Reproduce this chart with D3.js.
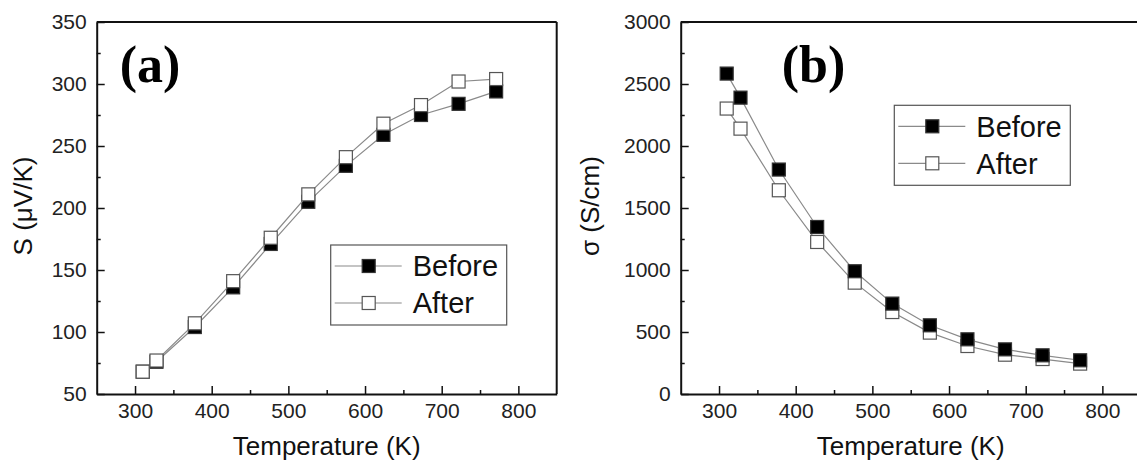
<!DOCTYPE html>
<html>
<head>
<meta charset="utf-8">
<script src="https://cdn.jsdelivr.net/npm/d3@7"></script>
<style>
  body { margin: 0; background: #fff; }
  text { font-family: "Liberation Sans", Arial, sans-serif; fill: #111; }
</style>
</head>
<body>
<div id="chart"></div>
<script>
// temperatures (K), shared by both panels
const temps = [310, 328, 378, 428, 477, 526, 575, 624, 673, 722, 771];

// (a) Seebeck coefficient, uV/K
const seebeckBefore = [68, 76, 104, 136, 171, 205, 234, 259, 275, 284, 294];
const seebeckAfter  = [68, 77, 107, 141, 176, 211, 241, 268, 283, 302, 304];

// (b) electrical conductivity, S/cm
const condBefore = [2584, 2390, 1810, 1347, 990, 729, 554, 441, 360, 312, 272];
const condAfter  = [2302, 2140, 1643, 1226, 898, 661, 495, 387, 317, 282, 245];

const xTicks = [300, 400, 500, 600, 700, 800];
const xMinor = [350, 450, 550, 650, 750];
const seebeckTicks = [50, 100, 150, 200, 250, 300, 350];
const seebeckMinor = [75, 125, 175, 225, 275, 325];
const condTicks = [0, 500, 1000, 1500, 2000, 2500, 3000];
const condMinor = [250, 750, 1250, 1750, 2250, 2750];

const W = 1137, H = 466;
const plotW = 460, plotH = 372, plotTop = 22;

const svg = d3.select("#chart")
  .append("svg")
  .attr("width", W)
  .attr("height", H);

function drawPanel(p) {
  const g = svg.append("g")
    .attr("transform", `translate(${p.left},${plotTop})`);

  const x = d3.scaleLinear().domain([250, 850]).range([0, plotW]);
  const y = d3.scaleLinear().domain(p.yDomain).range([plotH, 0]);

  // minor ticks
  g.append("g")
    .attr("transform", `translate(0,${plotH})`)
    .call(d3.axisBottom(x).tickValues(xMinor).tickSize(-4).tickFormat(""))
    .call(a => a.select(".domain").remove());
  g.append("g")
    .call(d3.axisLeft(y).tickValues(p.yMinor).tickSize(-4).tickFormat(""))
    .call(a => a.select(".domain").remove());

  // major axes, ticks pointing inward
  const xa = g.append("g")
    .attr("transform", `translate(0,${plotH})`)
    .call(d3.axisBottom(x).tickValues(xTicks).tickFormat(d3.format("d"))
      .tickSize(-8).tickPadding(9).tickSizeOuter(0));
  const ya = g.append("g")
    .call(d3.axisLeft(y).tickValues(p.yTicks).tickFormat(d3.format("d"))
      .tickSize(-8).tickPadding(10).tickSizeOuter(0));

  [xa, ya].forEach(a => {
    a.selectAll("text").style("font-size", "21px").style("fill", "#222");
    a.select(".domain").attr("stroke", "#111").attr("stroke-width", 2);
  });
  g.selectAll(".tick line").attr("stroke", "#111").attr("stroke-width", 1.5);

  // top and right frame
  g.append("line").attr("x1", 0).attr("x2", plotW).attr("y1", 0).attr("y2", 0)
    .attr("stroke", "#111").attr("stroke-width", 2);
  g.append("line").attr("x1", plotW).attr("x2", plotW).attr("y1", 0).attr("y2", plotH)
    .attr("stroke", "#111").attr("stroke-width", 2);

  const line = d3.line().x(d => x(d.t)).y(d => y(d.v));
  const ms = 13;

  p.series.forEach(s => {
    const pts = temps.map((t, i) => ({ t, v: s.values[i] }));
    g.append("path")
      .datum(pts)
      .attr("d", line)
      .attr("fill", "none")
      .attr("stroke", "#8a8a8a")
      .attr("stroke-width", 1.2);
    g.selectAll(null)
      .data(pts)
      .join("rect")
      .attr("x", d => x(d.t) - ms / 2)
      .attr("y", d => y(d.v) - ms / 2)
      .attr("width", ms)
      .attr("height", ms)
      .attr("fill", s.filled ? "#000" : "#fff")
      .attr("stroke", s.filled ? "#333" : "#555")
      .attr("stroke-width", 1.2);
  });

  // panel letter
  g.append("text")
    .attr("x", p.letterX)
    .attr("y", 60)
    .text(p.letter)
    .style("font-family", "'Liberation Serif', 'Times New Roman', serif")
    .style("font-weight", "bold")
    .style("font-size", "52px")
    .style("fill", "#000");

  // axis titles
  g.append("text")
    .attr("x", plotW / 2)
    .attr("y", 433)
    .attr("text-anchor", "middle")
    .style("font-size", "26px")
    .text("Temperature (K)");
  g.append("text")
    .attr("transform", `translate(${p.yTitleX},${plotH / 2 - 2}) rotate(-90)`)
    .attr("text-anchor", "middle")
    .style("font-size", "26px")
    .text(p.yTitle);

  // legend
  const lg = g.append("g").attr("transform", `translate(${p.legend[0]},${p.legend[1]})`);
  lg.append("rect")
    .attr("width", 176).attr("height", 80)
    .attr("fill", "#fff").attr("stroke", "#555").attr("stroke-width", 1.2);
  ["Before", "After"].forEach((name, i) => {
    const s = p.series.find(d => d.name === name);
    const cy = 21 + i * 37;
    lg.append("line").attr("x1", 4).attr("x2", 71).attr("y1", cy).attr("y2", cy)
      .attr("stroke", "#8a8a8a").attr("stroke-width", 1.2);
    lg.append("rect")
      .attr("x", 38 - 6.5).attr("y", cy - 6.5).attr("width", 13).attr("height", 13)
      .attr("fill", s.filled ? "#000" : "#fff")
      .attr("stroke", s.filled ? "#333" : "#555").attr("stroke-width", 1.2);
    lg.append("text")
      .attr("x", 82).attr("y", cy).attr("dy", "0.36em")
      .style("font-size", "29px")
      .text(name);
  });
}

drawPanel({
  left: 96.7,
  yDomain: [50, 350],
  yTicks: seebeckTicks,
  yMinor: seebeckMinor,
  yTitle: "S (\u03BCV/K)",
  yTitleX: -65,
  letter: "(a)",
  letterX: 23,
  legend: [234, 223],
  series: [
    { name: "Before", values: seebeckBefore, filled: true },
    { name: "After", values: seebeckAfter, filled: false }
  ]
});

drawPanel({
  left: 680.7,
  yDomain: [0, 3000],
  yTicks: condTicks,
  yMinor: condMinor,
  yTitle: "\u03C3 (S/cm)",
  yTitleX: -82,
  letter: "(b)",
  letterX: 101,
  legend: [213.6, 83.3],
  series: [
    { name: "After", values: condAfter, filled: false },
    { name: "Before", values: condBefore, filled: true }
  ]
});
</script>
</body>
</html>
